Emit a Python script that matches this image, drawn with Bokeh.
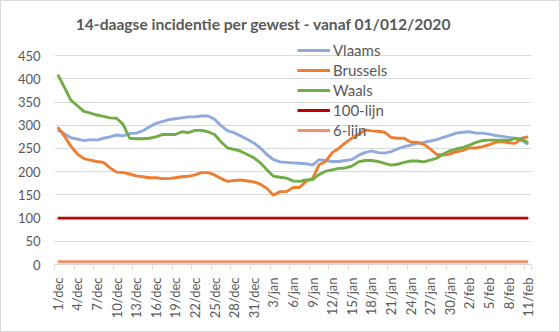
import math
from bokeh.plotting import figure
from bokeh.models import (ColumnDataSource, FixedTicker, Legend, LegendItem, Label)
from bokeh.embed import file_html
from bokeh.resources import INLINE

# ---- data ----
vlaams = [290, 282, 273, 270, 267, 269, 268, 272, 275, 279, 277, 282, 283, 288, 296,
          304, 308, 312, 314, 316, 318, 318, 320, 320, 313, 299, 288, 284, 277, 270,
          262, 251, 237, 226, 221, 220, 219, 218, 217, 214, 226, 224, 222, 222, 224,
          226, 235, 241, 245, 241, 240, 243, 249, 254, 257, 261, 263, 266, 269, 274,
          278, 283, 285, 286, 283, 283, 281, 278, 276, 274, 272, 267, 259]
brussels = [296, 277, 255, 238, 228, 225, 222, 220, 208, 199, 198, 195, 191, 189, 187,
            187, 185, 185, 187, 189, 190, 193, 198, 198, 193, 185, 179, 181, 182, 180,
            178, 173, 164, 149, 157, 157, 166, 166, 179, 185, 215, 222, 241, 250, 262,
            272, 280, 290, 288, 287, 285, 274, 272, 272, 264, 263, 259, 249, 237, 236,
            238, 243, 246, 251, 251, 254, 258, 263, 265, 262, 261, 272, 275]
waals = [409, 382, 354, 342, 330, 326, 322, 319, 316, 315, 302, 272, 271, 271, 272,
         275, 280, 280, 280, 286, 284, 289, 289, 286, 280, 264, 251, 248, 244, 237,
         230, 219, 204, 190, 188, 186, 180, 179, 182, 183, 194, 201, 204, 207, 208,
         212, 221, 224, 224, 222, 218, 214, 216, 220, 223, 223, 221, 225, 229, 238,
         245, 249, 252, 257, 263, 267, 268, 268, 268, 267, 272, 270, 263]
lijn100 = [100] * len(vlaams)
lijn6 = [6] * len(vlaams)

tick_labels = ["1/dec", "4/dec", "7/dec", "10/dec", "13/dec", "16/dec", "19/dec",
               "22/dec", "25/dec", "28/dec", "31/dec", "3/jan", "6/jan", "9/jan",
               "12/jan", "15/jan", "18/jan", "21/jan", "24/jan", "27/jan", "30/jan",
               "2/feb", "5/feb", "8/feb", "11/feb"]
y_ticks = [0, 50, 100, 150, 200, 250, 300, 350, 400, 450]

title_text = "14-daagse incidentie per gewest - vanaf 01/012/2020"

n = len(vlaams)
x = list(range(n))
src = ColumnDataSource(dict(x=x, vlaams=vlaams, brussels=brussels, waals=waals,
                            l100=lijn100, l6=lijn6))

FONT = "Lato"
TXT = "#595959"
GRID = "#D9D9D9"

# frame extends to the top so that the legend and title (drawn inside) are not clipped
Y_TOP = 558

p = figure(width=560, height=332, output_backend="svg", toolbar_location=None,
           x_range=(-0.5, n - 0.5), y_range=(0, Y_TOP),
           min_border_left=53, min_border_right=30, min_border_top=4,
           min_border_bottom=69,
           styles={"border": "1px solid #D9D9D9", "box-sizing": "border-box"})

p.outline_line_color = None
p.xgrid.grid_line_color = None
p.ygrid.grid_line_color = GRID
p.ygrid.ticker = FixedTicker(ticks=y_ticks)

# y axis
p.yaxis.ticker = FixedTicker(ticks=y_ticks)
p.yaxis.axis_line_color = None
p.yaxis.major_tick_line_color = None
p.yaxis.minor_tick_line_color = None
p.yaxis.major_tick_out = 0
p.yaxis.major_tick_in = 0
p.yaxis.major_label_standoff = 14
p.yaxis.major_label_text_font = FONT
p.yaxis.major_label_text_font_size = "13px"
p.yaxis.major_label_text_color = TXT

# x axis
label_pos = list(range(0, n, 3))
p.xaxis.ticker = FixedTicker(ticks=label_pos,
                             minor_ticks=[i - 0.5 for i in range(0, n + 1, 3)] + [n - 0.5])
p.xaxis.major_label_overrides = {pos: lab for pos, lab in zip(label_pos, tick_labels)}
p.xaxis.major_label_orientation = math.pi / 2
p.xaxis.axis_line_color = GRID
p.xaxis.major_tick_line_color = None
p.xaxis.major_tick_out = 0
p.xaxis.major_tick_in = 0
p.xaxis.minor_tick_line_color = GRID
p.xaxis.minor_tick_out = 5
p.xaxis.minor_tick_in = 0
p.xaxis.major_label_standoff = 8
p.xaxis.major_label_text_font = FONT
p.xaxis.major_label_text_font_size = "13px"
p.xaxis.major_label_text_color = TXT

LW = 2.9
r_v = p.line("x", "vlaams", source=src, line_color="#8FAADC", line_width=LW)
r_b = p.line("x", "brussels", source=src, line_color="#ED7D31", line_width=LW)
r_w = p.line("x", "waals", source=src, line_color="#70AD47", line_width=LW)
r_100 = p.line("x", "l100", source=src, line_color="#C00000", line_width=LW)
r_6 = p.line("x", "l6", source=src, line_color="#F1926B", line_width=LW)

# chart title (drawn inside the tall frame, above the 450 gridline)
title = Label(x=31.5, y=519, text=title_text, text_align="center",
              text_baseline="middle", text_font=FONT, text_font_size="15.6px",
              text_font_style="bold", text_color=TXT)
p.add_layout(title)

legend = Legend(items=[LegendItem(label="Vlaams", renderers=[r_v]),
                       LegendItem(label="Brussels", renderers=[r_b]),
                       LegendItem(label="Waals", renderers=[r_w]),
                       LegendItem(label="100-lijn", renderers=[r_100]),
                       LegendItem(label="6-lijn", renderers=[r_6])],
                location=(243, 125), orientation="vertical")
legend.border_line_color = None
legend.background_fill_alpha = 0
legend.padding = 0
legend.margin = 0
legend.spacing = 2
legend.glyph_width = 33
legend.glyph_height = 16
legend.label_height = 16
legend.label_standoff = 3
legend.label_text_font = FONT
legend.label_text_font_size = "15px"
legend.label_text_color = TXT
p.add_layout(legend, "center")

open("out.html", "w").write(file_html(p, INLINE))
